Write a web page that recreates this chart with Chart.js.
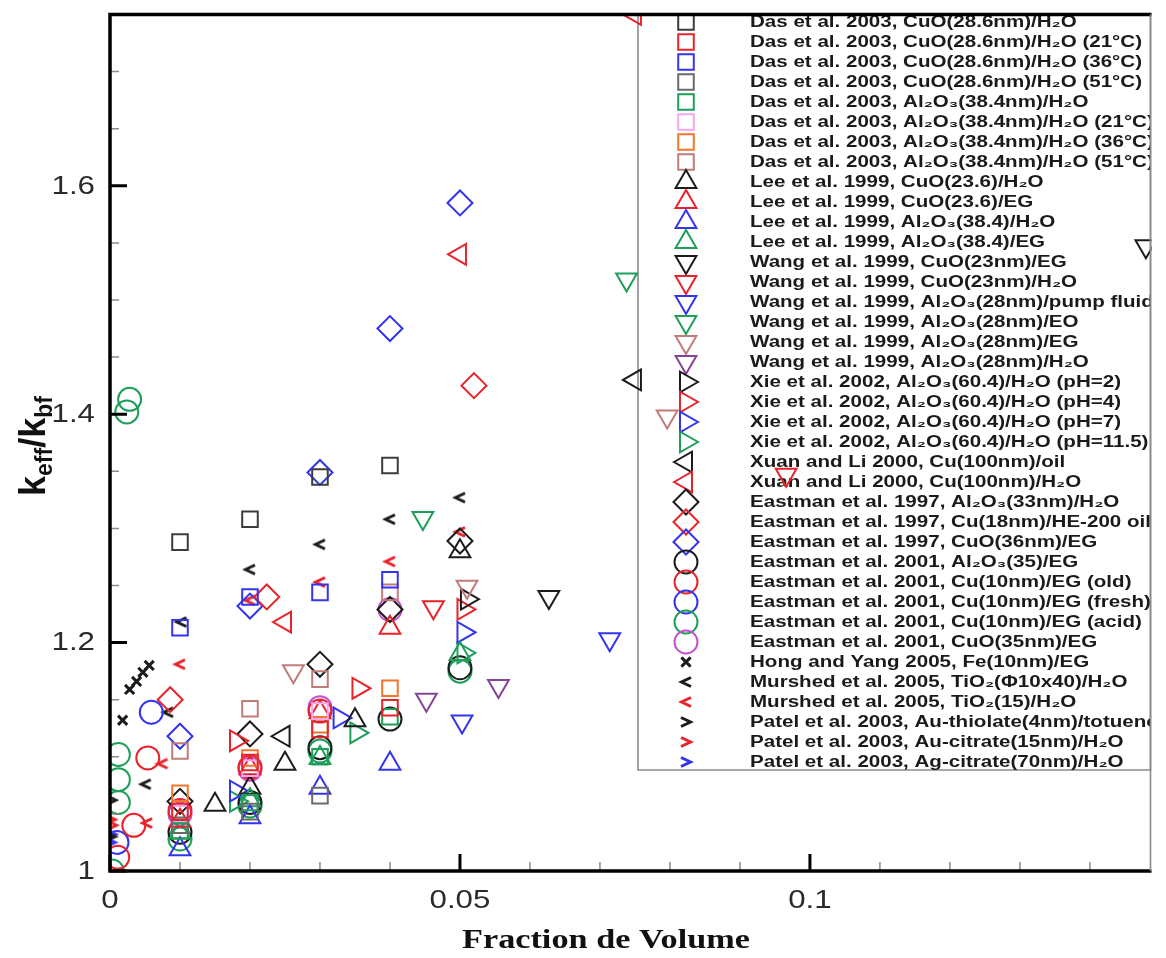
<!DOCTYPE html>
<html>
<head>
<meta charset="utf-8">
<title>Conductivité thermique des nanofluides</title>
<script src="https://cdn.jsdelivr.net/npm/chart.js"></script>
<style>
  html, body { margin: 0; padding: 0; background: #fff; overflow: hidden; }
  canvas { display: block; }
</style>
</head>
<body>
<canvas id="kChart" width="1166" height="958"></canvas>
<script>
// [volume fraction, k_eff/k_bf] for each data set
const dasCuO      = [[0.01, 1.288], [0.02, 1.308], [0.03, 1.345], [0.04, 1.355]];
const dasCuO21    = [[0.01, 1.052], [0.02, 1.095], [0.03, 1.124], [0.04, 1.143]];
const dasCuO36    = [[0.01, 1.213], [0.02, 1.240], [0.03, 1.244], [0.04, 1.255]];
const dasCuO51    = [[0.01, 1.040], [0.02, 1.052], [0.03, 1.066]];
const dasAl       = [[0.01, 1.035], [0.02, 1.060], [0.03, 1.100], [0.04, 1.135]];
const dasAl21     = [[0.01, 1.050], [0.02, 1.090], [0.03, 1.140]];
const dasAl36     = [[0.01, 1.068], [0.02, 1.099], [0.03, 1.128], [0.04, 1.160]];
const dasAl51     = [[0.01, 1.105], [0.02, 1.142], [0.03, 1.168], [0.04, 1.244]];
const leeCuOW     = [[0.015, 1.058], [0.02, 1.073], [0.025, 1.094], [0.035, 1.132], [0.05, 1.280]];
const leeCuOEG    = [[0.01, 1.044], [0.02, 1.090], [0.03, 1.139], [0.04, 1.213]];
const leeAlW      = [[0.01, 1.019], [0.02, 1.047], [0.03, 1.073], [0.04, 1.094]];
const leeAlEG     = [[0.01, 1.034], [0.02, 1.062], [0.03, 1.099], [0.05, 1.190]];
const wangCuOEG   = [[0.0627, 1.240], [0.148, 1.547]];
const wangCuOW    = [[0.0462, 1.231], [0.0966, 1.347]];
const wangAlPump  = [[0.0503, 1.131], [0.0714, 1.203]];
const wangAlEO    = [[0.0447, 1.309], [0.0738, 1.518]];
const wangAlEG    = [[0.0262, 1.175], [0.051, 1.249], [0.0796, 1.398]];
const wangAlW     = [[0.0452, 1.150], [0.0555, 1.162]];
const xiePH2      = [[0.051, 1.238]];
const xiePH4      = [[0.018, 1.114], [0.0355, 1.160], [0.0505, 1.229]];
const xiePH7      = [[0.018, 1.070], [0.0328, 1.134], [0.0505, 1.209]];
const xiePH115    = [[0.018, 1.061], [0.0352, 1.121], [0.0505, 1.191]];
const xuanOil     = [[0.0248, 1.118], [0.075, 1.430]];
const xuanW       = [[0.025, 1.218], [0.05, 1.540], [0.075, 1.750]];
const eastAlW     = [[0.01, 1.061], [0.02, 1.120], [0.03, 1.181], [0.04, 1.229], [0.05, 1.289]];
const eastCuOil   = [[0.0086, 1.150], [0.0224, 1.240], [0.052, 1.425]];
const eastCuOEG97 = [[0.01, 1.118], [0.02, 1.232], [0.03, 1.349], [0.04, 1.475], [0.05, 1.585]];
const eastAlEG    = [[0.01, 1.034], [0.02, 1.060], [0.03, 1.108], [0.04, 1.133], [0.05, 1.178]];
const eastCuOld   = [[0.0011, 1.012], [0.0034, 1.040], [0.0054, 1.099], [0.01, 1.053], [0.02, 1.091], [0.03, 1.140]];
const eastCuFresh = [[0.001, 1.025], [0.0059, 1.139]];
const eastCuAcid  = [[0.0003, 1.0], [0.0012, 1.060], [0.0012, 1.080], [0.0012, 1.102], [0.0024, 1.402],
                     [0.0028, 1.413], [0.01, 1.028], [0.02, 1.057], [0.03, 1.105], [0.05, 1.175]];
const eastCuOEG01 = [[0.01, 1.050], [0.02, 1.089], [0.03, 1.143], [0.04, 1.229]];
const hongFe      = [[0.0018, 1.132], [0.0028, 1.159], [0.0038, 1.166], [0.0047, 1.174], [0.0056, 1.180]];
const murshedRod  = [[0.0051, 1.076], [0.0083, 1.139], [0.0102, 1.218], [0.02, 1.264], [0.03, 1.286], [0.04, 1.308], [0.05, 1.327]];
const murshed15   = [[0.0053, 1.042], [0.0075, 1.094], [0.01, 1.181], [0.02, 1.237], [0.03, 1.253], [0.04, 1.271], [0.05, 1.297]];
const patelThiol  = [[0.0001, 1.030], [0.0002, 1.062]];
const patelAu     = [[0.0001, 1.045], [0.0003, 1.040]];
const patelAg     = [[0.0001, 1.025], [0.0002, 1.032]];

const seriesData = [dasCuO, dasCuO21, dasCuO36, dasCuO51, dasAl, dasAl21, dasAl36, dasAl51,
  leeCuOW, leeCuOEG, leeAlW, leeAlEG, wangCuOEG, wangCuOW, wangAlPump, wangAlEO, wangAlEG, wangAlW,
  xiePH2, xiePH4, xiePH7, xiePH115, xuanOil, xuanW, eastAlW, eastCuOil, eastCuOEG97,
  eastAlEG, eastCuOld, eastCuFresh, eastCuAcid, eastCuOEG01, hongFe, murshedRod, murshed15,
  patelThiol, patelAu, patelAg];

const labels = [
  'Das et al. 2003, CuO(28.6nm)/H₂O',
  'Das et al. 2003, CuO(28.6nm)/H₂O (21°C)',
  'Das et al. 2003, CuO(28.6nm)/H₂O (36°C)',
  'Das et al. 2003, CuO(28.6nm)/H₂O (51°C)',
  'Das et al. 2003, Al₂O₃(38.4nm)/H₂O',
  'Das et al. 2003, Al₂O₃(38.4nm)/H₂O (21°C)',
  'Das et al. 2003, Al₂O₃(38.4nm)/H₂O (36°C)',
  'Das et al. 2003, Al₂O₃(38.4nm)/H₂O (51°C)',
  'Lee et al. 1999, CuO(23.6)/H₂O',
  'Lee et al. 1999, CuO(23.6)/EG',
  'Lee et al. 1999, Al₂O₃(38.4)/H₂O',
  'Lee et al. 1999, Al₂O₃(38.4)/EG',
  'Wang et al. 1999, CuO(23nm)/EG',
  'Wang et al. 1999, CuO(23nm)/H₂O',
  'Wang et al. 1999, Al₂O₃(28nm)/pump fluid',
  'Wang et al. 1999, Al₂O₃(28nm)/EO',
  'Wang et al. 1999, Al₂O₃(28nm)/EG',
  'Wang et al. 1999, Al₂O₃(28nm)/H₂O',
  'Xie et al. 2002, Al₂O₃(60.4)/H₂O (pH=2)',
  'Xie et al. 2002, Al₂O₃(60.4)/H₂O (pH=4)',
  'Xie et al. 2002, Al₂O₃(60.4)/H₂O (pH=7)',
  'Xie et al. 2002, Al₂O₃(60.4)/H₂O (pH=11.5)',
  'Xuan and Li 2000, Cu(100nm)/oil',
  'Xuan and Li 2000, Cu(100nm)/H₂O',
  'Eastman et al. 1997, Al₂O₃(33nm)/H₂O',
  'Eastman et al. 1997, Cu(18nm)/HE-200 oil',
  'Eastman et al. 1997, CuO(36nm)/EG',
  'Eastman et al. 2001, Al₂O₃(35)/EG',
  'Eastman et al. 2001, Cu(10nm)/EG (old)',
  'Eastman et al. 2001, Cu(10nm)/EG (fresh)',
  'Eastman et al. 2001, Cu(10nm)/EG (acid)',
  'Eastman et al. 2001, CuO(35nm)/EG',
  'Hong and Yang 2005, Fe(10nm)/EG',
  'Murshed et al. 2005, TiO₂(Φ10x40)/H₂O',
  'Murshed et al. 2005, TiO₂(15)/H₂O',
  'Patel et al. 2003, Au-thiolate(4nm)/totuene',
  'Patel et al. 2003, Au-citrate(15nm)/H₂O',
  'Patel et al. 2003, Ag-citrate(70nm)/H₂O'
];

const xTicks = [0, 0.05, 0.1];
const yTicks = [1, 1.2, 1.4, 1.6];

const COL = {
  black: '#1c1c1c', dark: '#3c3c3c', gray: '#6a6a6a', red: '#e8232b', blue: '#3434ee',
  green: '#1d9f5a', pink: '#f3a8ef', orange: '#f4752c', rosy: '#c07b7b', purple: '#84449c',
  magenta: '#c44fd0'
};

// "<" mark used for the Murshed and Patel sets (rotated for ">")
function chevron(color) {
  const c = document.createElement('canvas');
  c.width = 16; c.height = 16;
  const g = c.getContext('2d');
  g.strokeStyle = color;
  g.lineWidth = 3;
  g.beginPath();
  g.moveTo(13, 3.5); g.lineTo(3.5, 8); g.lineTo(13, 12.5);
  g.stroke();
  return c;
}
const chevBlack = chevron(COL.black), chevRed = chevron(COL.red), chevBlue = chevron(COL.blue);

// marker per data set: colour, point style, rotation, radius
const markers = [
  [COL.dark, 'rect', 0, 11], [COL.red, 'rect', 0, 11], [COL.blue, 'rect', 0, 11], [COL.gray, 'rect', 0, 11],
  [COL.green, 'rect', 0, 11], [COL.pink, 'rect', 0, 11], [COL.orange, 'rect', 0, 11], [COL.rosy, 'rect', 0, 11],
  [COL.black, 'triangle', 0, 12], [COL.red, 'triangle', 0, 12], [COL.blue, 'triangle', 0, 12], [COL.green, 'triangle', 0, 12],
  [COL.black, 'triangle', 180, 12], [COL.red, 'triangle', 180, 12], [COL.blue, 'triangle', 180, 12],
  [COL.green, 'triangle', 180, 12], [COL.rosy, 'triangle', 180, 12], [COL.purple, 'triangle', 180, 12],
  [COL.black, 'triangle', 90, 12], [COL.red, 'triangle', 90, 12], [COL.blue, 'triangle', 90, 12], [COL.green, 'triangle', 90, 12],
  [COL.black, 'triangle', 270, 12], [COL.red, 'triangle', 270, 12],
  [COL.black, 'rectRot', 0, 12.5], [COL.red, 'rectRot', 0, 12.5], [COL.blue, 'rectRot', 0, 12.5],
  [COL.black, 'circle', 0, 11.5], [COL.red, 'circle', 0, 11.5], [COL.blue, 'circle', 0, 11.5],
  [COL.green, 'circle', 0, 11.5], [COL.magenta, 'circle', 0, 11.5],
  [COL.black, 'crossRot', 0, 6.5],
  [COL.black, chevBlack, 0, 8], [COL.red, chevRed, 0, 8],
  [COL.black, chevBlack, 180, 8], [COL.red, chevRed, 180, 8], [COL.blue, chevBlue, 180, 8]
];

const datasets = seriesData.map((pts, i) => {
  const [color, style, rot, r] = markers[i];
  return {
    label: labels[i],
    data: pts.map(p => ({ x: p[0], y: p[1] })),
    pointStyle: style,
    rotation: rot,
    pointRadius: r,
    pointBorderWidth: style === 'crossRot' ? 3 : 2,
    borderColor: color,
    backgroundColor: 'rgba(0,0,0,0)',
    clip: 0
  };
});

function stretched(ctx, text, x, y, align, sx) {
  ctx.save();
  ctx.translate(x, y);
  ctx.scale(sx, 1);
  ctx.textAlign = align;
  ctx.fillText(text, 0, 0);
  ctx.restore();
}

// legend box in the upper right of the plot, drawn under the markers
const legendBox = {
  id: 'legendBox',
  beforeDatasetsDraw(chart) {
    const ctx = chart.ctx, a = chart.chartArea;
    const left = 638, bottom = 770, top = a.top, right = a.right - 1;
    ctx.save();
    ctx.strokeStyle = '#8a8a8a';
    ctx.lineWidth = 1.6;
    ctx.beginPath();
    ctx.moveTo(left, top); ctx.lineTo(left, bottom); ctx.lineTo(right, bottom); ctx.lineTo(right, top);
    ctx.stroke();

    ctx.beginPath();
    ctx.rect(left, top, right - left, bottom - top);
    ctx.clip();
    ctx.font = 'bold 16px "Liberation Sans", Arial, sans-serif';
    const sx = 392 / ctx.measureText(labels[1]).width;
    ctx.textBaseline = 'middle';
    chart.data.datasets.forEach((ds, i) => {
      const y = 22 + i * 20;
      ctx.strokeStyle = ds.borderColor;
      ctx.fillStyle = 'rgba(0,0,0,0)';
      ctx.lineWidth = ds.pointBorderWidth;
      Chart.helpers.drawPoint(ctx, {
        pointStyle: ds.pointStyle, rotation: ds.rotation,
        radius: ds.pointRadius, borderWidth: ds.pointBorderWidth
      }, 686, y);
      ctx.fillStyle = '#1a1a1a';
      stretched(ctx, ds.label, 750, y + 1, 'left', sx);
    });
    ctx.restore();
  }
};

// frame, inward ticks, tick labels and axis titles
const frame = {
  id: 'frame',
  afterDatasetsDraw(chart) {
    const ctx = chart.ctx, a = chart.chartArea;
    const xs = chart.scales.x, ys = chart.scales.y;
    ctx.save();

    // minor ticks
    ctx.strokeStyle = '#8c8c8c';
    ctx.lineWidth = 1.5;
    ctx.beginPath();
    for (let k = 1; k <= 14; k++) {
      if (k % 5 === 0) continue;
      const px = xs.getPixelForValue(k / 100);
      ctx.moveTo(px, a.bottom); ctx.lineTo(px, a.bottom - 9);
    }
    for (let k = 1; k <= 15; k++) {
      if (k % 4 === 0) continue;
      const py = ys.getPixelForValue(1 + k * 0.05);
      ctx.moveTo(a.left, py); ctx.lineTo(a.left + 9, py);
    }
    ctx.stroke();

    // major ticks
    ctx.strokeStyle = '#000';
    ctx.lineWidth = 3;
    ctx.beginPath();
    xTicks.forEach(v => {
      const px = xs.getPixelForValue(v);
      ctx.moveTo(px, a.bottom); ctx.lineTo(px, a.bottom - 17);
    });
    yTicks.forEach(v => {
      const py = ys.getPixelForValue(v);
      ctx.moveTo(a.left, py); ctx.lineTo(a.left + 17, py);
    });
    ctx.stroke();

    // axes box
    ctx.lineWidth = 3.5;
    ctx.beginPath();
    ctx.moveTo(a.right, a.top); ctx.lineTo(a.left, a.top);
    ctx.lineTo(a.left, a.bottom); ctx.lineTo(a.right, a.bottom);
    ctx.stroke();
    ctx.strokeStyle = '#8a8a8a';
    ctx.lineWidth = 1.6;
    ctx.beginPath();
    ctx.moveTo(a.right - 1, a.top); ctx.lineTo(a.right - 1, a.bottom);
    ctx.stroke();

    // tick labels
    ctx.fillStyle = '#2a2a2a';
    ctx.font = '25px "Liberation Sans", Arial, sans-serif';
    ctx.textBaseline = 'middle';
    yTicks.forEach(v => stretched(ctx, String(v), 95, ys.getPixelForValue(v) + 1, 'right', 1.25));
    xTicks.forEach(v => stretched(ctx, String(v), xs.getPixelForValue(v), 901, 'center', 1.25));

    // x title
    ctx.fillStyle = '#111';
    ctx.font = 'bold 27px "Liberation Serif", "Times New Roman", serif';
    const xt = 'Fraction de Volume';
    stretched(ctx, xt, 606, 941, 'center', 288 / ctx.measureText(xt).width);

    // y title: k_eff / k_bf
    ctx.translate(45, 496);
    ctx.rotate(-Math.PI / 2);
    ctx.textAlign = 'left';
    ctx.textBaseline = 'alphabetic';
    const parts = [['k', 36, 0], ['eff', 23, 7], ['/k', 36, 0], ['bf', 23, 7]];
    let x = 0;
    parts.forEach(([t, size, dy]) => {
      ctx.font = 'bold ' + size + 'px "Liberation Sans", Arial, sans-serif';
      ctx.fillText(t, x, dy);
      x += ctx.measureText(t).width;
    });
    ctx.restore();
  }
};

const ctx = document.getElementById('kChart').getContext('2d');
const chart = new Chart(ctx, {
  type: 'scatter',
  data: { datasets },
  options: {
    responsive: false,
    animation: false,
    layout: { padding: { left: 110, right: 4, top: 14, bottom: 87 } },
    scales: {
      x: { type: 'linear', min: 0, max: 0.1488, display: false },
      y: { type: 'linear', min: 1, max: 1.75, display: false }
    },
    plugins: { legend: { display: false }, tooltip: { enabled: false } }
  },
  plugins: [legendBox, frame]
});
</script>
</body>
</html>
